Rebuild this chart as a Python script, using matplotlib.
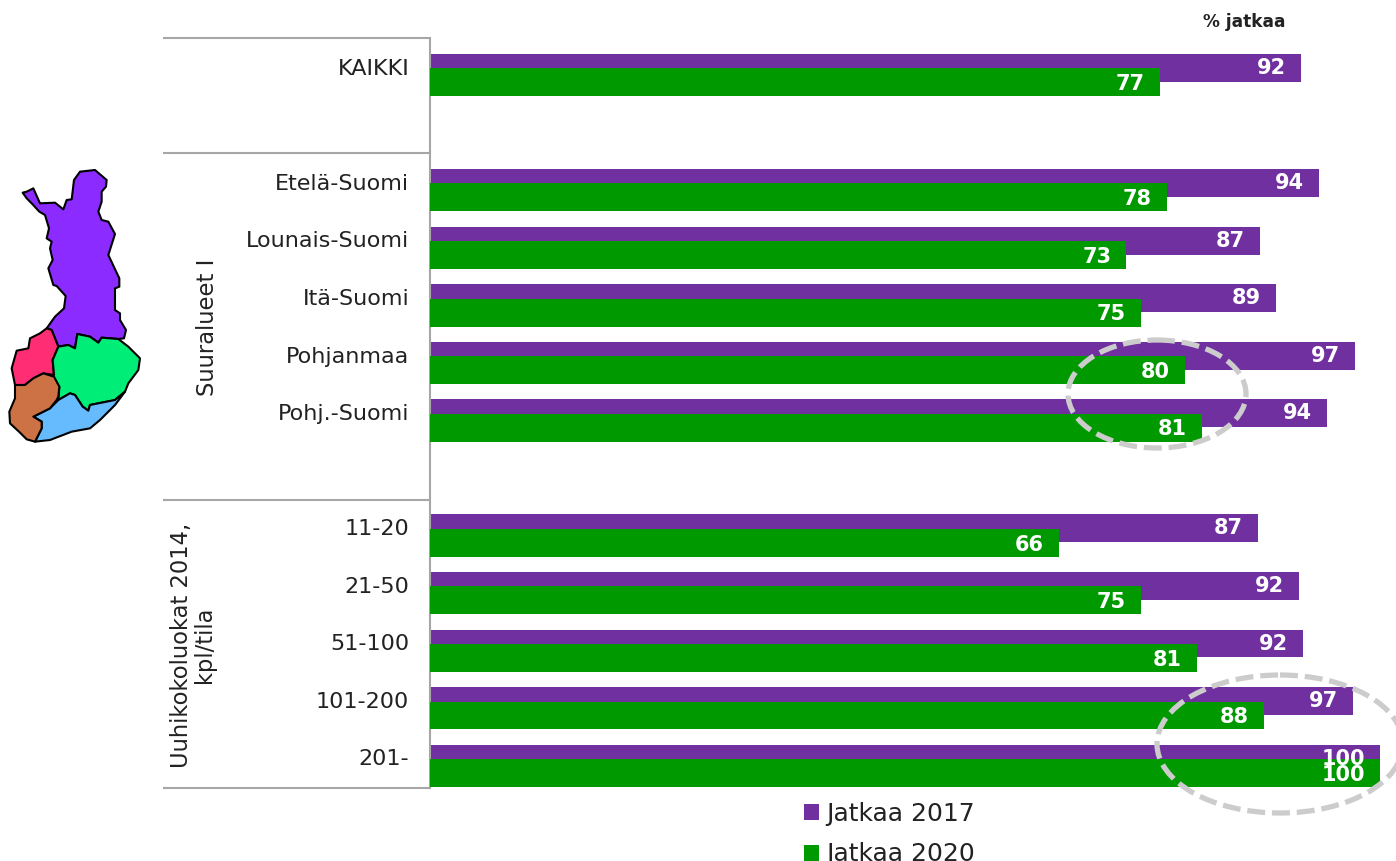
import matplotlib
matplotlib.use('Agg')
import matplotlib.pyplot as plt
from matplotlib.patches import Ellipse, Polygon

# chart data, blank slots keep the gaps between the groups
categories = ['KAIKKI', '', 'Etelä-Suomi', 'Lounais-Suomi', 'Itä-Suomi', 'Pohjanmaa', 'Pohj.-Suomi', '',
              '11-20', '21-50', '51-100', '101-200', '201-']
jatkaa_2017 = [91.7, None, 93.6, 87.4, 89.1, 97.4, 94.4, None, 87.2, 91.5, 91.9, 97.2, 100]
jatkaa_2020 = [76.8, None, 77.6, 73.3, 74.8, 79.5, 81.3, None, 66.2, 74.8, 80.7, 87.8, 100]

map_purple = [(80, 95), (100, 85), (120, 130), (165, 128), (190, 148), (200, 120), (215, 118), (222, 60), (240, 35),
              (285, 30), (320, 60), (318, 80), (305, 95), (305, 125), (295, 155), (305, 180), (325, 185), (345, 222),
              (325, 285), (358, 355), (358, 380), (345, 385), (345, 450), (360, 460), (360, 480), (378, 510),
              (372, 535), (355, 537), (305, 533), (295, 548), (270, 530), (232, 522), (225, 565), (205, 555),
              (175, 560), (155, 510), (140, 505), (165, 470), (192, 445), (197, 408), (170, 378), (160, 375),
              (145, 325), (158, 300), (150, 265), (155, 245), (140, 235), (147, 205), (135, 165), (118, 155),
              (95, 130), (80, 115), (68, 98)]
map_pink = [(140, 505), (155, 510), (175, 560), (158, 600), (162, 645), (130, 640), (100, 655), (75, 675), (45, 675),
            (35, 625), (50, 572), (85, 565), (90, 535), (120, 520)]
map_green = [(232, 522), (270, 530), (295, 548), (305, 533), (355, 537), (385, 560), (420, 595), (415, 630),
             (385, 670), (375, 695), (345, 720), (270, 735), (265, 752), (248, 740), (225, 705), (210, 700),
             (175, 720), (178, 680), (143, 650), (162, 645), (158, 600), (175, 560), (205, 555), (225, 565)]
map_blue = [(175, 720), (210, 700), (225, 705), (248, 740), (265, 752), (270, 735), (345, 720), (375, 695), (345, 735),
            (300, 780), (270, 805), (215, 815), (150, 840), (105, 845), (125, 805), (125, 785), (100, 770), (130, 755),
            (150, 745)]
map_brown = [(45, 675), (75, 675), (100, 655), (130, 640), (162, 650), (178, 680), (175, 710), (170, 720), (150, 745),
             (130, 755), (100, 770), (125, 785), (125, 805), (105, 845), (80, 838), (60, 818), (30, 790), (28, 755),
             (45, 715)]

W, H = 1396, 861
purple = '#7030a0'
green = '#009900'
grey = '#a6a6a6'
text_col = '#222222'

fig = plt.figure(figsize=(W / 100, H / 100), dpi=100)

# main axes: 0 at x=430, 9.5 px per unit, slots between y=38 and y=788
ax = fig.add_axes([430 / W, 1 - 788 / H, (W - 430) / W, 750 / H])
ax.set_xlim(0, (W - 430) / 9.5)
ax.set_ylim(12.53, -0.5)
for s in ['top', 'right', 'bottom']:
    ax.spines[s].set_visible(False)
ax.spines['left'].set_color(grey)
ax.spines['left'].set_linewidth(1.5)
ax.set_xticks([])
ax.set_yticks([i for i, c in enumerate(categories) if c], [c for c in categories if c])
ax.tick_params(axis='y', length=0, pad=15, labelsize=16, labelcolor=text_col)

# purple first, green sits on top of it
for i in range(len(categories)):
    if jatkaa_2017[i] is None:
        continue
    ax.barh(i + 0.02, jatkaa_2017[i], height=0.485, color=purple, zorder=2,
            label='Jatkaa 2017' if i == 0 else None)
    ax.barh(i + 0.27, jatkaa_2020[i], height=0.485, color=green, zorder=3,
            label='Jatkaa 2020' if i == 0 else None)
    ax.text(jatkaa_2017[i] - 1.6, i + 0.02, '%d' % round(jatkaa_2017[i]), color='white', fontweight='bold',
            fontsize=15, ha='right', va='center', zorder=4)
    ax.text(jatkaa_2020[i] - 1.6, i + 0.3, '%d' % round(jatkaa_2020[i]), color='white', fontweight='bold',
            fontsize=15, ha='right', va='center', zorder=4)

ax.legend(loc='upper left', bbox_to_anchor=(366 / (W - 430), -0.008), frameon=False, fontsize=18, labelcolor=text_col,
          handlelength=0.62, handleheight=0.62, handletextpad=0.3, labelspacing=0.68, borderpad=0.3, borderaxespad=0)

# overlay in pixel coordinates for the group lines, the map and the circles
ov = fig.add_axes([0, 0, 1, 1], facecolor='none')
ov.set_xlim(0, W)
ov.set_ylim(H, 0)
ov.axis('off')

for y in [38, 153, 500, 788]:
    ov.plot([163, 430], [y, y], color=grey, lw=1.5, solid_capstyle='butt')

ov.text(207, 327, 'Suuralueet I', rotation=90, ha='center', va='center', fontsize=16.3, color=text_col)
ov.text(193, 645, 'Uuhikokoluokat 2014,\nkpl/tila', rotation=90, ha='center', va='center', fontsize=16.3,
        color=text_col, multialignment='center', linespacing=1.0)
ov.text(1244, 22, '% jatkaa', ha='center', va='center', fontsize=12.2, fontweight='bold', color=text_col)

for pts, col in [(map_purple, '#8c2bff'), (map_pink, '#ff2e74'), (map_green, '#00ee77'),
                 (map_blue, '#66bbff'), (map_brown, '#cc7244')]:
    xy = [(x / 3, 160 + y / 3) for x, y in pts]
    ov.add_patch(Polygon(xy, closed=True, facecolor=col, edgecolor='black', lw=1.5, joinstyle='round'))

ov.add_patch(Ellipse((1157, 394), 178, 108, fill=False, edgecolor='#cccccc', lw=3.8, linestyle=(0, (3.4, 1.3)), zorder=5))
ov.add_patch(Ellipse((1280, 744), 246, 138, fill=False, edgecolor='#cccccc', lw=3.8, linestyle=(0, (3.4, 1.3)), zorder=5,
                     clip_on=False))

fig.savefig('out.png', dpi=100)
